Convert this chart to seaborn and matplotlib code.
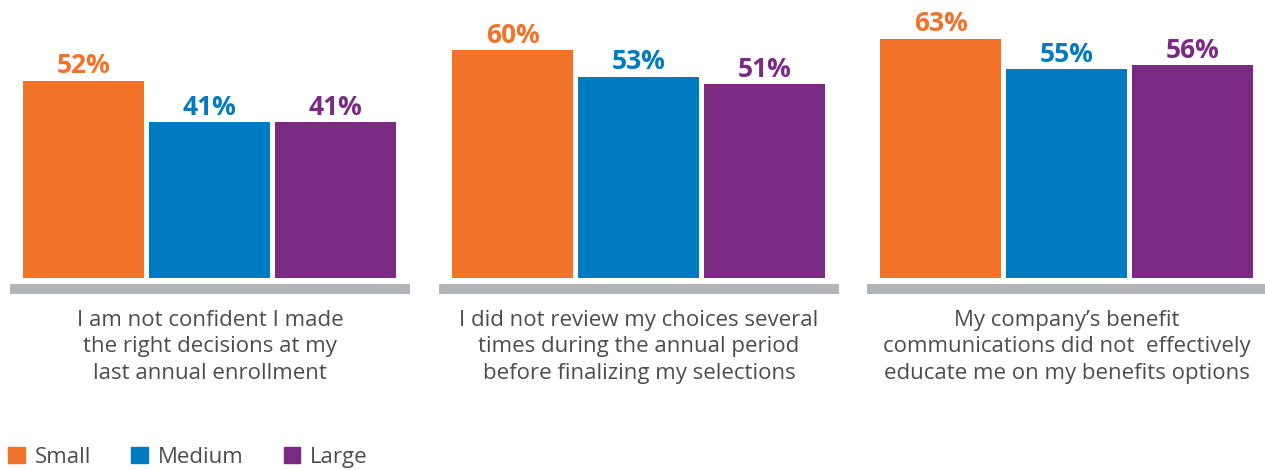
import matplotlib
matplotlib.use("Agg")
import matplotlib.pyplot as plt
import seaborn as sns
import pandas as pd

sizes = ["Small", "Medium", "Large"]
colors = ["#f2722a", "#007bc2", "#7a2a82"]
questions = [
    "I am not confident I made\nthe right decisions at my\nlast annual enrollment",
    "I did not review my choices several\ntimes during the annual period\nbefore finalizing my selections",
    "My company\u2019s benefit\ncommunications did not  effectively\neducate me on my benefits options",
]
small = [52, 60, 63]
medium = [41, 53, 55]
large = [41, 51, 56]

rows = []
for i, q in enumerate(questions):
    for s, v in zip(sizes, [small[i], medium[i], large[i]]):
        rows.append({"question": q, "size": s, "pct": v})
df = pd.DataFrame(rows)

sns.set_theme(style="white")
plt.rcParams["font.family"] = ["Open Sans", "DejaVu Sans"]

W, H = 1265, 470
fig = plt.figure(figsize=(W / 100, H / 100), dpi=100)
palette = dict(zip(sizes, colors))

lefts = [10, 439, 867]
for i, q in enumerate(questions):
    ax = fig.add_axes([lefts[i] / W, 1 - 295 / H, 400 / W, 295 / H])
    sub = df[df["question"] == q]
    sns.barplot(data=sub, x="size", y="pct", hue="size", palette=palette,
                order=sizes, hue_order=sizes, width=0.96, dodge=False,
                legend=False, saturation=1, ax=ax, linewidth=0)
    ax.set_xlim(-0.585, 2.59)
    ax.set_ylim(-4.47, 73.2)
    ax.axhspan(-4.3, -1.6, color="#b3b4b7", lw=0)
    for c, col in zip(ax.containers, colors):
        ax.bar_label(c, labels=[f"{v:.0f}%" for v in c.datavalues],
                     color=col, fontsize=19, fontweight="bold", padding=1)
    ax.set_axis_off()
    fig.text((lefts[i] + 200) / W, 1 - 310 / H, q, ha="center", va="top",
             fontsize=16, color="#4d4d4f", linespacing=1.33)

handles = [plt.Rectangle((0, 0), 1, 1, color=c) for c in colors]
fig.legend(handles, sizes, loc="lower left", bbox_to_anchor=(6 / W, 0.0),
           ncol=3, frameon=False, fontsize=16, labelcolor="#4d4d4f",
           handlelength=0.75, handleheight=0.75, handletextpad=0.45,
           columnspacing=1.8, borderaxespad=0, borderpad=0.1)

fig.savefig("out.png", dpi=100)
